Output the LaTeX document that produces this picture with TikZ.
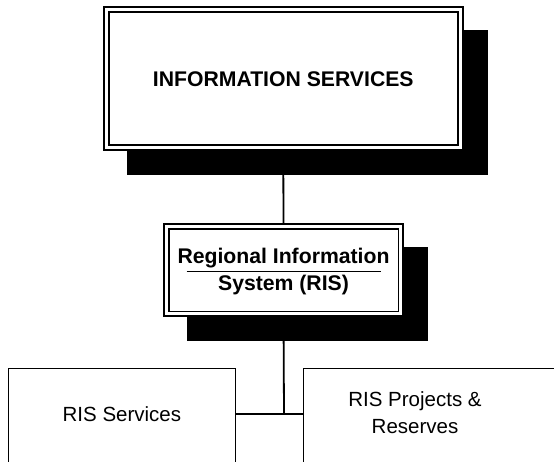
\documentclass[tikz,border=0pt]{standalone}
\usepackage{fontspec}
\setmainfont{Liberation Sans}
\usetikzlibrary{shadows,backgrounds}

\begin{document}
\begin{tikzpicture}[x=1pt,y=-1pt,
	unit/.style={draw, fill=white, double, double distance=3pt, line width=1.8pt, align=center,
		font=\bfseries\fontsize{21.2}{27}\selectfont,
		general shadow={shadow xshift=24pt, shadow yshift=-24pt, fill=black, draw=black, line width=6.6pt}},
	leaf/.style={draw, fill=white, line width=1.8pt, minimum width=227pt, minimum height=140pt, anchor=north west},
	leaftext/.style={align=center, font=\fontsize{20.5}{26.7}\selectfont},
	conn/.style={line width=1.8pt}]
		\useasboundingbox (0,0) rectangle (554,461);
		\clip (0,0) rectangle (554,461);

		\node (infoserv) [unit, minimum width=354pt, minimum height=138pt] at (283.25,78.75) {INFORMATION SERVICES};
		\node (ris) [unit, minimum width=234.6pt, minimum height=87.6pt] at (283.5,270) {\rule{0pt}{19pt}Regional Information\\System (RIS)};
		\draw [line width=1pt] ([xshift=-97pt,yshift=-1pt]ris.center) -- ++(194,0);

		\coordinate (jn) at (284,414);
		\node (services) [leaf] at (7.5,367.5) {};
		\node (projects) [leaf, minimum width=300pt] at (302.5,367.5) {};
		\node (servicestext) [leaftext] at (services.north |- jn) {RIS Services};
		\node (projectstext) [leaftext] at (415,413) {RIS Projects \&\\Reserves};

		\begin{scope}[on background layer]
		\draw [conn] (infoserv.south)--(ris.north);
		\draw [conn] (ris.south)--(jn);
		\draw [conn] (services.east |- jn)--(projects.west |- jn);
		\end{scope}
	\end{tikzpicture}
\end{document}
